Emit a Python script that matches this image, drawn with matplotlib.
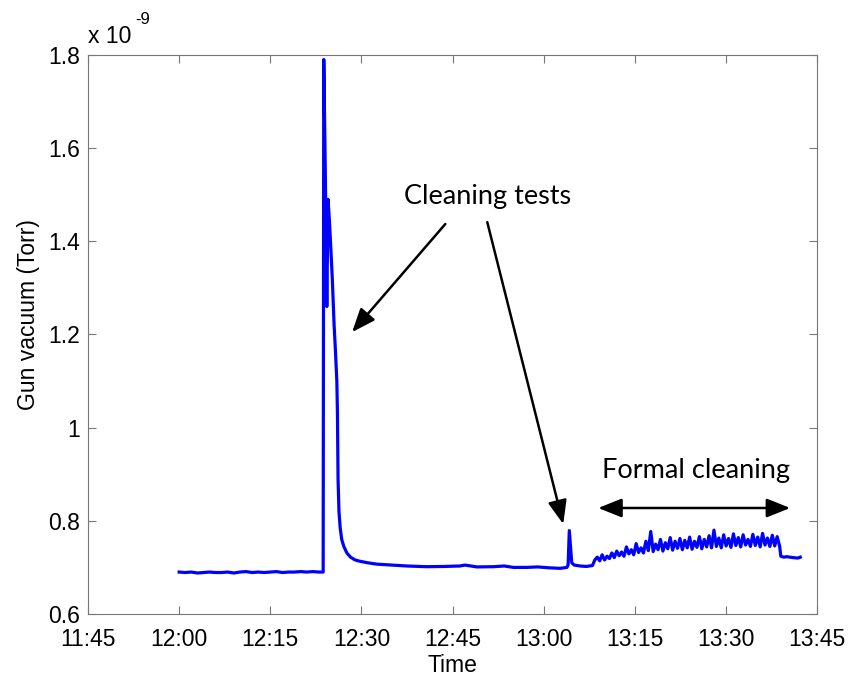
import numpy as np
import matplotlib
matplotlib.use("Agg")
import matplotlib.pyplot as plt

# Gun vacuum trace, values in units of 1e-9 Torr, time in minutes after 11:45
baseline_t = [15, 16, 17, 18, 19, 20, 21, 22, 23, 24, 25, 26, 27, 28, 29, 30,
              31, 32, 33, 34, 35, 36, 37, 38, 38.6]
baseline_v = [0.690, 0.689, 0.690, 0.688, 0.689, 0.690, 0.689, 0.689, 0.690,
              0.688, 0.690, 0.691, 0.689, 0.690, 0.689, 0.690, 0.691, 0.689,
              0.690, 0.690, 0.691, 0.690, 0.691, 0.690, 0.690]

burst_t = [38.7, 38.8, 39.1, 39.3, 39.5, 39.7, 39.9, 40.2, 40.5, 40.7, 40.95,
           41.05, 41.1, 41.15, 41.3, 41.5, 41.75, 42.1, 42.6, 43.2, 43.95,
           44.8, 46.0, 47.5, 50.0, 52.5, 55.7, 58.5, 61.2, 62.0, 64.0, 66.7,
           68.5, 70.0, 72.2, 74.0, 76.0, 77.7, 78.8]
burst_v = [0.690, 1.790, 1.500, 1.260, 1.490, 1.450, 1.400, 1.320, 1.220,
           1.170, 1.100, 1.030, 0.960, 0.890, 0.820, 0.785, 0.760, 0.745,
           0.731, 0.722, 0.716, 0.713, 0.710, 0.707, 0.705, 0.703, 0.7015,
           0.702, 0.703, 0.705, 0.701, 0.7015, 0.703, 0.700, 0.700, 0.701,
           0.699, 0.698, 0.700]

test2_t = [79.0, 79.2, 79.4, 79.6, 80.0, 81.0, 82.0, 83.0]
test2_v = [0.705, 0.779, 0.745, 0.710, 0.705, 0.703, 0.702, 0.704]

# formal cleaning, evenly sampled between these two times
clean_start, clean_end = 83.4, 113.8
clean_v = [0.716, 0.722, 0.714, 0.727, 0.716, 0.724,
           0.719, 0.731, 0.721, 0.735, 0.725, 0.733,
           0.724, 0.744, 0.729, 0.738, 0.727, 0.751,
           0.732, 0.742, 0.731, 0.756, 0.736, 0.777,
           0.734, 0.750, 0.738, 0.760, 0.735, 0.753,
           0.740, 0.764, 0.737, 0.756, 0.741, 0.762,
           0.738, 0.758, 0.742, 0.765, 0.739, 0.756,
           0.743, 0.766, 0.740, 0.760, 0.744, 0.768,
           0.742, 0.780, 0.745, 0.763, 0.742, 0.770,
           0.746, 0.762, 0.743, 0.772, 0.747, 0.764,
           0.744, 0.770, 0.748, 0.760, 0.745, 0.771,
           0.747, 0.765, 0.744, 0.773, 0.748, 0.763,
           0.745, 0.769, 0.746, 0.766, 0.746]

tail_t = [114.0, 114.5, 115.0, 116.0, 116.8, 117.2]
tail_v = [0.724, 0.722, 0.723, 0.721, 0.720, 0.722]

tick_minutes = [0, 15, 30, 45, 60, 75, 90, 105, 120]
tick_labels = ["11:45", "12:00", "12:15", "12:30", "12:45",
               "13:00", "13:15", "13:30", "13:45"]
ytick_vals = [0.6, 0.8, 1.0, 1.2, 1.4, 1.6, 1.8]
ytick_labels = ["0.6", "0.8", "1", "1.2", "1.4", "1.6", "1.8"]

clean_t = np.linspace(clean_start, clean_end, len(clean_v))
t = np.concatenate([baseline_t, burst_t, test2_t, clean_t, tail_t])
v = np.concatenate([baseline_v, burst_v, test2_v, clean_v, tail_v])

fig = plt.figure(figsize=(8.54, 6.81), dpi=100)
ax = fig.add_axes([0.103, 0.0984, 0.854, 0.821])

ax.plot(t, v, color="#0000ff", linewidth=2.3)

ax.set_xlim(0, 120)
ax.set_ylim(0.6, 1.8)
ax.set_xticks(tick_minutes)
ax.set_xticklabels(tick_labels)
ax.set_yticks(ytick_vals)
ax.set_yticklabels(ytick_labels)

axis_font = dict(family="Liberation Sans", size=16.5)
for lab in ax.get_xticklabels() + ax.get_yticklabels():
    lab.set_fontfamily("Liberation Sans")
    lab.set_fontsize(16.5)
ax.tick_params(direction="in", length=6, width=0.8, color="#777777",
               top=True, right=True)
ax.tick_params(axis="x", pad=10)
ax.tick_params(axis="y", pad=6)
for sp in ax.spines.values():
    sp.set_color("#777777")
    sp.set_linewidth(0.8)

ax.set_xlabel("Time", **axis_font)
ax.xaxis.set_label_coords(0.5, -0.072)
ax.set_ylabel("Gun vacuum (Torr)", **axis_font)
ax.yaxis.set_label_coords(-0.066, 0.535)

# exponent label, MATLAB style
ax.text(0.0, 1.012, "x 10", transform=ax.transAxes, ha="left", va="bottom",
        family="Liberation Sans", size=16.5)
ax.text(0.065, 1.05, "-9", transform=ax.transAxes, ha="left", va="bottom",
        family="Liberation Sans", size=12)

note_font = dict(family="Lato", size=19.5)
head = "-|>,head_length=0.8,head_width=0.32"
ax.text(65.8, 1.495, "Cleaning tests", ha="center", va="center", **note_font)
ax.annotate("", xy=(43.46, 1.205), xytext=(58.8, 1.437),
            arrowprops=dict(arrowstyle=head, color="k", lw=1.8,
                            mutation_scale=18, shrinkA=0, shrinkB=0))
ax.annotate("", xy=(78.2, 0.793), xytext=(65.7, 1.441),
            arrowprops=dict(arrowstyle=head, color="k", lw=1.8,
                            mutation_scale=18, shrinkA=0, shrinkB=0))
ax.text(100.1, 0.907, "Formal cleaning", ha="center", va="center", **note_font)
ax.annotate("", xy=(115.55, 0.8275), xytext=(83.95, 0.8275),
            arrowprops=dict(arrowstyle="<|-|>,head_length=0.8,head_width=0.32",
                            color="k", lw=1.8, mutation_scale=18,
                            shrinkA=0, shrinkB=0))

fig.savefig("out.png", dpi=100)
